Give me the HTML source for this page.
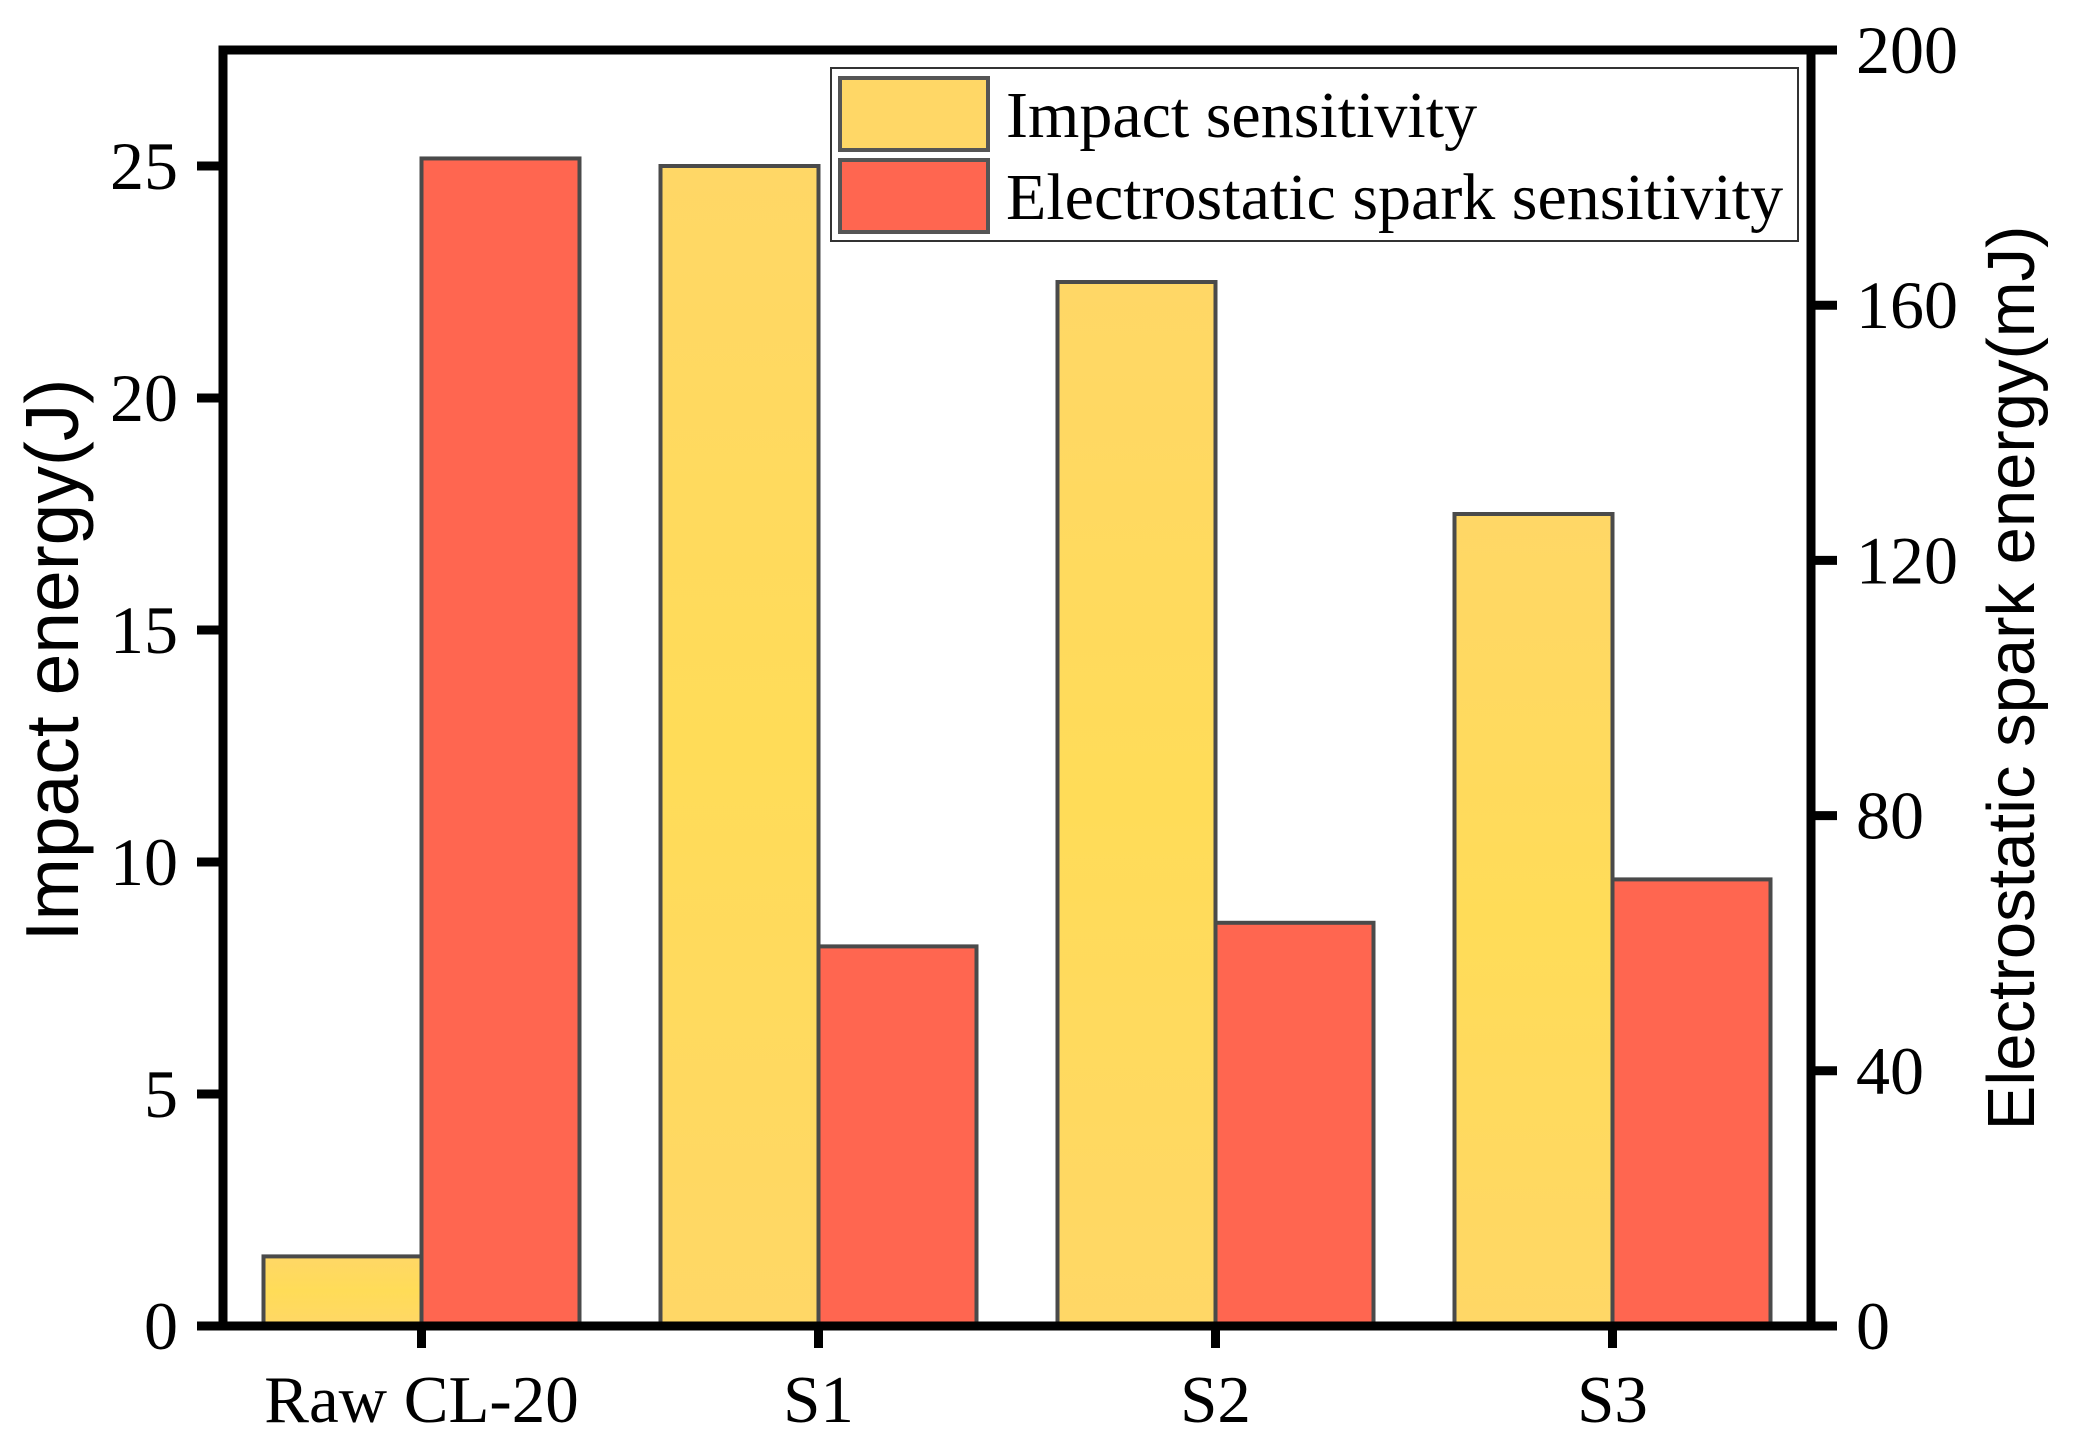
<!DOCTYPE html>
<html><head><meta charset="utf-8"><style>
html,body{margin:0;padding:0;background:#fff;}
svg{display:block;}
</style></head><body>
<svg id="chart" width="2077" height="1444" viewBox="0 0 2077 1444" xmlns="http://www.w3.org/2000/svg">
<defs>
<linearGradient id="yg" x1="0" y1="0" x2="0" y2="1">
<stop offset="0" stop-color="#FFD766"/><stop offset="0.5" stop-color="#FFDC58"/><stop offset="1" stop-color="#FFD766"/>
</linearGradient>
</defs>
<g id="bars"></g>
<g id="axes"></g>
<text transform="translate(78,660) rotate(-90)" text-anchor="middle" font-family="Liberation Sans, Arial, sans-serif" font-size="75">Impact energy(J)</text>
<text transform="translate(2034,678) rotate(-90)" text-anchor="middle" font-family="Liberation Sans, Arial, sans-serif" font-size="67">Electrostatic spark energy(mJ)</text>
<g>
<rect x="831" y="68" width="967" height="173" fill="#fff" stroke="#333" stroke-width="2"/>
<rect x="840" y="78" width="148" height="72" fill="#FFD766" stroke="#555" stroke-width="4"/>
<text x="1006" y="137" font-family="Liberation Serif, Times New Roman, serif" font-size="66">Impact sensitivity</text>
<rect x="840" y="160" width="148" height="72" fill="#FF6650" stroke="#555" stroke-width="4"/>
<text x="1006" y="219" font-family="Liberation Serif, Times New Roman, serif" font-size="66">Electrostatic spark sensitivity</text>
</g>
</svg>
<script>
const categories = ["Raw CL-20", "S1", "S2", "S3"];
const impactValues = [1.5, 25, 22.5, 17.5];
const sparkValues = [183, 59.5, 63.2, 70];
const leftTicks = [0, 5, 10, 15, 20, 25];
const rightTicks = [0, 40, 80, 120, 160, 200];

const NS = "http://www.w3.org/2000/svg";
const X0 = 223, X1 = 1811, Y0 = 1326, Y1 = 50;
const leftMax = 27.5, rightMax = 200;
const yL = v => Y0 - v / leftMax * (Y0 - Y1);
const yR = v => Y0 - v / rightMax * (Y0 - Y1);
const step = (X1 - X0) / categories.length;
const xC = i => X0 + step * (i + 0.5);
const barW = 158;

function mk(tag, attrs, parent) {
  const e = document.createElementNS(NS, tag);
  for (const k in attrs) e.setAttribute(k, attrs[k]);
  parent.appendChild(e);
  return e;
}
const bars = document.getElementById('bars');
const axes = document.getElementById('axes');

categories.forEach((c, i) => {
  const cx = xC(i);
  const yt = yL(impactValues[i]);
  const b1 = mk('rect', {x: cx - barW, y: yt, width: barW, height: Y0 - yt, fill: 'url(#yg)', stroke: '#4a4a4a', 'stroke-width': 4}, bars);
  
  
  const yt2 = yR(sparkValues[i]);
  const b2 = mk('rect', {x: cx, y: yt2, width: barW, height: Y0 - yt2, fill: '#FF6650', stroke: '#4a4a4a', 'stroke-width': 4}, bars);
  
  
  const t = mk('line', {x1: cx, x2: cx, y1: Y0, y2: Y0 + 22, stroke: '#000', 'stroke-width': 9}, axes);
  
  
  const lb = mk('text', {x: cx, y: 1422, 'text-anchor': 'middle', 'font-family': 'Liberation Serif, Times New Roman, serif', 'font-size': 67}, axes);
  lb.textContent = c;
  
  
});

const frame = mk('rect', {x: X0, y: Y1, width: X1 - X0, height: Y0 - Y1, fill: 'none', stroke: '#000', 'stroke-width': 9}, axes);



leftTicks.forEach(v => {
  const y = yL(v);
  const t = mk('line', {x1: X0 - 26, x2: X0, y1: y, y2: y, stroke: '#000', 'stroke-width': 9}, axes);
  
  
  const l = mk('text', {x: 178, y: y + 23, 'text-anchor': 'end', 'font-family': 'Liberation Serif, Times New Roman, serif', 'font-size': 68}, axes);
  l.textContent = v;
  
  
});
rightTicks.forEach(v => {
  const y = yR(v);
  const t = mk('line', {x1: X1, x2: X1 + 26, y1: y, y2: y, stroke: '#000', 'stroke-width': 9}, axes);
  
  
  const l = mk('text', {x: 1856, y: y + 23, 'text-anchor': 'start', 'font-family': 'Liberation Serif, Times New Roman, serif', 'font-size': 68}, axes);
  l.textContent = v;
  
  
});
</script>
</body></html>
